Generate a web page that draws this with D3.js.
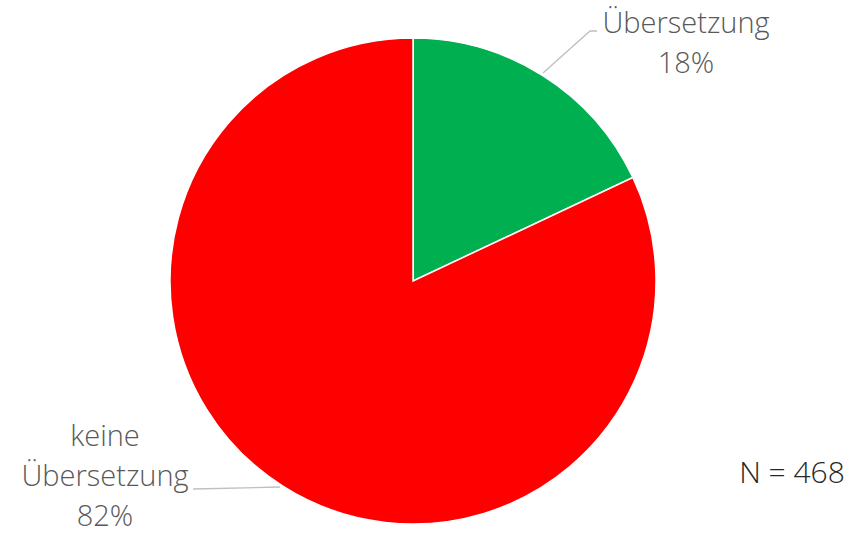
<html>
<head>
  <script src="https://d3js.org/d3.v7.min.js"></script>
  <style>
    body { margin: 0; background: white; }
    text { font-family: "Open Sans", sans-serif; font-weight: 300; }
  </style>
</head>
<body>
  <svg id="pie" width="856" height="535"></svg>
  <script>
    // data
    const categories = ["Übersetzung", "keine Übersetzung"];
    const shares = [18, 82];
    const colors = ["#00b050", "#ff0000"];
    const labelLines = [["Übersetzung", "18%"], ["keine", "Übersetzung", "82%"]];
    const note = "N = 468";

    const svg = d3.select("#pie");
    const cx = 413, cy = 281, radius = 243;

    const pie = d3.pie().sort(null).value(d => d)(shares);
    const arc = d3.arc().innerRadius(0).outerRadius(radius);

    const g = svg.append("g").attr("transform", `translate(${cx},${cy})`);
    g.selectAll("path.slice").data(pie)
      .join("path")
      .attr("class", "slice")
      .attr("d", arc)
      .attr("fill", (d, i) => colors[i])
      .attr("stroke", "white")
      .attr("stroke-width", 1.5);

    // leader lines
    svg.append("polyline")
      .attr("points", "543,73 590,31 597,31")
      .attr("fill", "none").attr("stroke", "#bfbfbf").attr("stroke-width", 1.3);
    svg.append("polyline")
      .attr("points", "193,489 280,487")
      .attr("fill", "none").attr("stroke", "#bfbfbf").attr("stroke-width", 1.3);

    // labels
    const labelPos = [{ x: 686, y: 33 }, { x: 105, y: 446 }];
    labelLines.forEach((lines, i) => {
      const t = svg.append("text")
        .attr("x", labelPos[i].x)
        .attr("y", labelPos[i].y)
        .attr("text-anchor", "middle")
        .attr("font-size", 29)
        .attr("fill", "#595959");
      lines.forEach((l, j) => {
        t.append("tspan").attr("x", labelPos[i].x).attr("dy", j === 0 ? 0 : 40).text(l);
      });
    });

    svg.append("text")
      .attr("x", 792).attr("y", 483)
      .attr("text-anchor", "middle")
      .attr("font-size", 30)
      .attr("fill", "#262626")
      .text(note);
  </script>
</body>
</html>
